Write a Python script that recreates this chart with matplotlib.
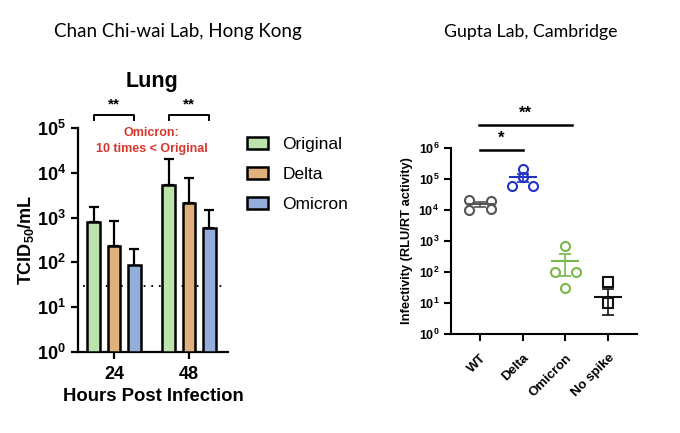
import numpy as np
import matplotlib
matplotlib.use("Agg")
import matplotlib.pyplot as plt

plt.rcParams['font.family'] = ['Liberation Sans', 'DejaVu Sans']
plt.rcParams['mathtext.fontset'] = 'custom'
plt.rcParams['mathtext.rm'] = 'Liberation Sans'
plt.rcParams['mathtext.bf'] = 'Liberation Sans:bold'

# --- left panel data (Chan Chi-wai Lab) ---
hours = ['24', '48']
variants = ['Original', 'Delta', 'Omicron']
original_titer = [780, 5400]
delta_titer = [230, 2150]
omicron_titer = [85, 600]
original_err = [970, 14600]
delta_err = [620, 5550]
omicron_err = [115, 850]
detect_limit = 30

# --- right panel data (Gupta Lab) ---
groups = ['WT', 'Delta', 'Omicron', 'No spike']
wt_pts = [21000, 20000, 10000, 11000]
delta_pts = [210000, 120000, 60000, 60000]
omicron_pts = [690, 100, 100, 30]
nospike_pts = [48, 10]
group_mean = [15500, 112500, 230, 16]
group_sem = [2900, 35000, 154, 12]

fig = plt.figure(figsize=(6.8, 4.33), dpi=100)

fig.text(178 / 680, 1 - 32 / 433, 'Chan Chi-wai Lab, Hong Kong', family='Lato',
         fontsize=13.5, ha='center', va='center')
fig.text(531 / 680, 1 - 32 / 433, 'Gupta Lab, Cambridge', family='Lato',
         fontsize=12.8, ha='center', va='center')

# ================= left =================
ax = fig.add_axes([78 / 680, 81 / 433, 150 / 680, 224 / 433])
x = np.arange(len(hours))
w = 0.173
off = 0.267
cols = ['#bde3ad', '#e0b17c', '#93aedb']
series = [original_titer, delta_titer, omicron_titer]
errs = [original_err, delta_err, omicron_err]
handles = []
for i, (vals, e, c, lab) in enumerate(zip(series, errs, cols, variants)):
    xs = x + (i - 1) * off
    b = ax.bar(xs, vals, width=w, bottom=1, color=c, edgecolor='black', linewidth=1.8,
               label=lab, zorder=3)
    ax.errorbar(xs, vals, yerr=[np.zeros(len(e)), e], fmt='none', ecolor='black',
                elinewidth=1.6, capsize=3.5, capthick=1.6, zorder=2)
    handles.append(b)

ax.hlines(detect_limit, -0.41, 1.51, colors='black', linestyles=(0, (1, 3.2)),
          linewidth=1.3, zorder=1)

ax.set_yscale('log')
ax.set_ylim(1, 1e5)
ax.set_xlim(-0.48, 1.52)
ax.set_yticks([10 ** k for k in range(6)])
ax.set_yticklabels([r'$\mathbf{10^{%d}}$' % k for k in range(6)], fontsize=13)
ax.minorticks_off()
ax.set_xticks(x)
ax.set_xticklabels(hours, fontsize=13, fontweight='bold')
ax.tick_params(axis='both', width=1.6, length=5)
ax.tick_params(axis='x', pad=5)
for s in ['top', 'right']:
    ax.spines[s].set_visible(False)
for s in ['left', 'bottom']:
    ax.spines[s].set_linewidth(1.6)
ax.set_ylabel(r'TCID$_{\mathbf{50}}$/mL', fontsize=13, fontweight='bold', labelpad=1)
ax.set_xlabel('Hours Post Infection', fontsize=13.3, fontweight='bold', labelpad=4)

fig.text(152 / 680, 1 - 82 / 433, 'Lung', fontsize=15.5, fontweight='bold',
         ha='center', va='center')

# significance brackets
for xc in x:
    x0, x1 = xc - off, xc + off
    ax.plot([x0, x0, x1, x1], [10 ** 5.18, 10 ** 5.29, 10 ** 5.29, 10 ** 5.18],
            color='black', lw=1.4, clip_on=False)
    ax.text(xc, 10 ** 5.52, '**', ha='center', va='center', fontsize=11,
            fontweight='bold')

ax.text(0.5, 10 ** 4.89, 'Omicron:', color='#d6362e', ha='center', va='center',
        fontsize=9, fontweight='bold')
ax.text(0.5, 10 ** 4.54, '10 times < Original', color='#d6362e', ha='center',
        va='center', fontsize=9, fontweight='bold')

ax.legend(handles=handles, labels=variants, loc='upper left', frameon=False,
          bbox_to_anchor=(1.02, 1.03), fontsize=12.5, handlelength=1.25,
          handleheight=0.7, labelspacing=0.85, handletextpad=0.8)

# ================= right =================
ax2 = fig.add_axes([451 / 680, 99 / 433, 186 / 680, 186 / 433])
gcols = ['#555555', '#2233c4', '#7ab84c', '#111111']
pts = [wt_pts, delta_pts, omicron_pts, nospike_pts]
jit = [[-0.25, 0.25, -0.25, 0.25], [0, 0, -0.25, 0.25], [0, -0.25, 0.25, 0], [0, 0]]
mk = ['o', 'o', 'o', 's']
for i, (p, c) in enumerate(zip(pts, gcols)):
    xs = i + np.array(jit[i])
    ax2.plot(xs, p, linestyle='none', marker=mk[i], markersize=6.5,
             markerfacecolor='white', markeredgecolor=c, markeredgewidth=1.5, zorder=3)
    ax2.hlines(group_mean[i], i - 0.33, i + 0.33, colors=c, linewidth=1.5, zorder=4)
    ax2.errorbar(i, group_mean[i], yerr=group_sem[i], fmt='none', ecolor=c,
                 elinewidth=1.2, capsize=4, capthick=1.2, zorder=4)

ax2.set_yscale('log')
ax2.set_ylim(1, 1e6)
ax2.set_xlim(-0.68, 3.68)
ax2.set_yticks([10 ** k for k in range(7)])
ax2.set_yticklabels([r'$\mathbf{10^{%d}}$' % k for k in range(7)], fontsize=9)
ax2.minorticks_off()
ax2.set_xticks(range(len(groups)))
ax2.set_xticklabels(groups, rotation=45, ha='right', rotation_mode='anchor',
                    fontsize=9.5, fontweight='bold')
ax2.tick_params(axis='both', width=1.5, length=5)
ax2.tick_params(axis='x', pad=8)
for s in ['top', 'right']:
    ax2.spines[s].set_visible(False)
for s in ['left', 'bottom']:
    ax2.spines[s].set_linewidth(1.5)
ax2.set_ylabel('Infectivity (RLU/RT activity)', fontsize=9.3, fontweight='bold',
               labelpad=4)

ax2.plot([0, 1], [10 ** 5.94, 10 ** 5.94], color='black', lw=1.8, clip_on=False)
ax2.text(0.5, 10 ** 6.3, '*', ha='center', va='center', fontsize=12, fontweight='bold')
ax2.plot([-0.03, 2.15], [10 ** 6.74, 10 ** 6.74], color='black', lw=1.8, clip_on=False)
ax2.text(1.07, 10 ** 7.12, '**', ha='center', va='center', fontsize=12,
         fontweight='bold')

fig.savefig('out.png', dpi=100)
